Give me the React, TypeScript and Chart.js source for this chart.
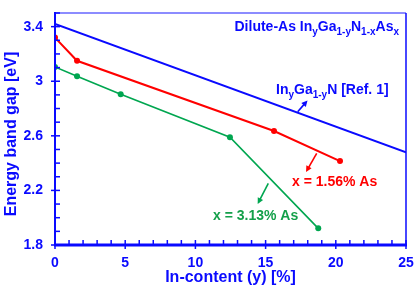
import React, { useEffect, useRef } from "react";
import { Chart, registerables } from "chart.js";

Chart.register(...registerables);

const xTicks = [0, 5, 10, 15, 20, 25];
const yTicks = [1.8, 2.2, 2.6, 3.0, 3.4];
const xMinorStep = 1;
const yMinorStep = 0.1;
const xTitle = "In-content (y) [%]";
const yTitle = "Energy band gap [eV]";

const refX = [0, 25];
const refY = [3.42, 2.48];
const as156X = [0, 1.57, 15.6, 20.3];
const as156Y = [3.32, 3.15, 2.635, 2.415];
const as313X = [0, 1.57, 4.68, 12.46, 18.75];
const as313Y = [3.105, 3.037, 2.905, 2.59, 1.922];

const BLUE = "#0a0aff";
const RED = "#ff0000";
const GREEN = "#00a650";
const FONT = "'Liberation Sans', Arial, sans-serif";

type Part = { t: string; sub?: boolean };

function drawRich(ctx: CanvasRenderingContext2D, parts: Part[], x: number, y: number, align: "left" | "right", color: string, size = 14) {
  const subSize = Math.round(size * 0.72);
  const widths = parts.map((p) => {
    ctx.font = `bold ${p.sub ? subSize : size}px ${FONT}`;
    return ctx.measureText(p.t).width;
  });
  const total = widths.reduce((a, b) => a + b, 0);
  let cx = align === "right" ? x - total : x;
  ctx.fillStyle = color;
  ctx.textAlign = "left";
  ctx.textBaseline = "alphabetic";
  parts.forEach((p, i) => {
    ctx.font = `bold ${p.sub ? subSize : size}px ${FONT}`;
    ctx.fillText(p.t, cx, p.sub ? y + 4 : y);
    cx += widths[i];
  });
}

function arrow(ctx: CanvasRenderingContext2D, x1: number, y1: number, x2: number, y2: number, color: string) {
  const ang = Math.atan2(y2 - y1, x2 - x1);
  const hl = 6;
  const hw = 3;
  ctx.strokeStyle = color;
  ctx.fillStyle = color;
  ctx.lineWidth = 1.6;
  ctx.beginPath();
  ctx.moveTo(x1, y1);
  ctx.lineTo(x2 - Math.cos(ang) * hl * 0.8, y2 - Math.sin(ang) * hl * 0.8);
  ctx.stroke();
  ctx.beginPath();
  ctx.moveTo(x2, y2);
  ctx.lineTo(x2 - Math.cos(ang) * hl - Math.sin(ang) * hw, y2 - Math.sin(ang) * hl + Math.cos(ang) * hw);
  ctx.lineTo(x2 - Math.cos(ang) * hl + Math.sin(ang) * hw, y2 - Math.sin(ang) * hl - Math.cos(ang) * hw);
  ctx.closePath();
  ctx.fill();
}

const decor = {
  id: "decor",
  afterDatasetsDraw(chart: any) {
    const ctx: CanvasRenderingContext2D = chart.ctx;
    const { left, right, top, bottom } = chart.chartArea;
    const xs = chart.scales.x;
    const ys = chart.scales.y;
    ctx.save();
    // frame
    ctx.strokeStyle = "#8c8cff";
    ctx.lineWidth = 2;
    ctx.beginPath();
    ctx.moveTo(left, top);
    ctx.lineTo(right, top);
    ctx.stroke();
    ctx.strokeStyle = BLUE;
    ctx.lineWidth = 1.5;
    ctx.beginPath();
    ctx.moveTo(right, top);
    ctx.lineTo(right, bottom);
    ctx.stroke();
    ctx.lineWidth = 2;
    ctx.beginPath();
    ctx.moveTo(left, top - 1);
    ctx.lineTo(left, bottom);
    ctx.stroke();
    ctx.lineWidth = 3;
    ctx.beginPath();
    ctx.moveTo(left - 1, bottom);
    ctx.lineTo(right + 1, bottom);
    ctx.stroke();
    // ticks
    ctx.lineWidth = 1.5;
    for (let i = 0; ; i++) {
      const v = Math.round((ys.min + i * yMinorStep) * 100) / 100;
      if (v > ys.max + 1e-6) break;
      const py = ys.getPixelForValue(v);
      const major = yTicks.some((t) => Math.abs(t - v) < 1e-6);
      ctx.beginPath();
      ctx.moveTo(major ? left - 4 : left, py);
      ctx.lineTo(left + 5, py);
      ctx.stroke();
    }
    for (let i = 0; ; i++) {
      const v = xs.min + i * xMinorStep;
      if (v > xs.max + 1e-6) break;
      const px = xs.getPixelForValue(v);
      const major = xTicks.some((t) => Math.abs(t - v) < 1e-6);
      ctx.beginPath();
      ctx.moveTo(px, bottom - 5);
      ctx.lineTo(px, major ? bottom + 4 : bottom);
      ctx.stroke();
    }
    // y title
    ctx.save();
    ctx.translate(12, 134);
    ctx.rotate(-Math.PI / 2);
    ctx.font = `bold 16px ${FONT}`;
    ctx.fillStyle = BLUE;
    ctx.textAlign = "center";
    ctx.textBaseline = "middle";
    ctx.fillText(yTitle, 0, 0);
    ctx.restore();
    // annotations
    drawRich(ctx, [
      { t: "Dilute-As In" }, { t: "y", sub: true }, { t: "Ga" }, { t: "1-y", sub: true },
      { t: "N" }, { t: "1-x", sub: true }, { t: "As" }, { t: "x", sub: true },
    ], 399, 31, "right", BLUE);
    drawRich(ctx, [{ t: "In" }, { t: "y", sub: true }, { t: "Ga" }, { t: "1-y", sub: true }, { t: "N [Ref. 1]" }], 276, 94, "left", BLUE);
    drawRich(ctx, [{ t: "x = 1.56% As" }], 292, 186, "left", RED);
    drawRich(ctx, [{ t: "x = 3.13% As" }], 213, 220, "left", "#14a04a");
    arrow(ctx, 297.7, 111.7, 307.5, 100.5, BLUE);
    arrow(ctx, 316.7, 153.3, 306, 172, RED);
    arrow(ctx, 268.3, 183.3, 257.7, 204, GREEN);
    ctx.restore();
  },
};

function pts(xs: number[], ys: number[]) {
  return xs.map((x, i) => ({ x, y: ys[i] }));
}

export default function App() {
  const ref = useRef<HTMLCanvasElement | null>(null);
  useEffect(() => {
    document.body.style.margin = "0";
    const canvas = ref.current!;
    const chart = new Chart(canvas, {
      type: "line",
      data: {
        datasets: [
          { data: pts(refX, refY), borderColor: BLUE, borderWidth: 2, pointRadius: 0, fill: false },
          { data: pts(as156X, as156Y), borderColor: RED, backgroundColor: RED, borderWidth: 2, pointRadius: 3, pointBorderWidth: 0, fill: false },
          { data: pts(as313X, as313Y), borderColor: GREEN, backgroundColor: GREEN, borderWidth: 1.6, pointRadius: 3, pointBorderWidth: 0, fill: false },
        ],
      },
      options: {
        animation: false,
        responsive: false,
        devicePixelRatio: 1,
        layout: { padding: { top: 13, right: 14, left: 0, bottom: 0 } },
        plugins: { legend: { display: false }, tooltip: { enabled: false } },
        scales: {
          x: {
            type: "linear",
            min: 0,
            max: 25,
            grid: { display: false, drawTicks: false },
            border: { display: false },
            afterBuildTicks: (s: any) => { s.ticks = xTicks.map((v) => ({ value: v })); },
            afterFit: (s: any) => { s.height = 47; s.paddingLeft = 0; s.paddingRight = 0; },
            ticks: { color: BLUE, padding: 10, font: { family: FONT, size: 14, weight: "bold" }, callback: (v: any) => String(v) },
            title: { display: true, text: xTitle, color: BLUE, padding: { top: 5, bottom: 5 }, font: { family: FONT, size: 16, weight: "bold" } },
          },
          y: {
            type: "linear",
            min: 1.8,
            max: 3.5,
            grid: { display: false, drawTicks: false },
            border: { display: false },
            afterBuildTicks: (s: any) => { s.ticks = yTicks.map((v) => ({ value: v })); },
            afterFit: (s: any) => { s.width = 55; s.paddingTop = 0; s.paddingBottom = 0; },
            ticks: { color: BLUE, padding: 12, font: { family: FONT, size: 14, weight: "bold" }, callback: (v: any) => String(Math.round(v * 10) / 10) },
            title: { display: false },
          },
        },
      },
      plugins: [decor],
    } as any);
    return () => chart.destroy();
  }, []);
  return <canvas ref={ref} width={420} height={292} style={{ display: "block" }} />;
}
